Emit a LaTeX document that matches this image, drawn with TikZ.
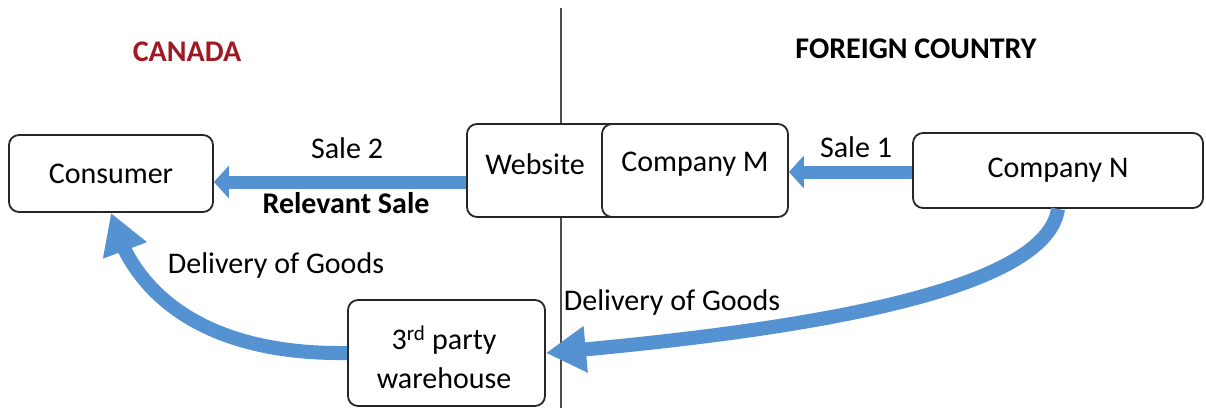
\documentclass[tikz,border=0pt]{standalone}
\usepackage{fontspec}
\setmainfont{Carlito}
\usetikzlibrary{arrows.meta,bending}
\definecolor{arrowblue}{RGB}{84,146,210}
\definecolor{canred}{RGB}{160,26,38}
\begin{document}
\begin{tikzpicture}[x=1pt,y=-1pt,
  box/.style={draw=black!85,line width=1.8pt,rounded corners=10pt,fill=white,inner sep=0pt},
  lbl/.style={inner sep=0pt,font=\fontsize{30}{36}\selectfont},
  hdr/.style={inner sep=0pt,font=\fontsize{30}{36}\selectfont\bfseries},
  flat/.style={draw=arrowblue,line width=13pt,-{Triangle[length=15pt,width=32pt]}},
  curvy/.style={draw=arrowblue,line width=14pt,-{Triangle[length=40pt,width=44pt]}}]
\useasboundingbox (0,0) rectangle (1206,408);
\fill[white] (0,0) rectangle (1206,408);
% divider
\coordinate (vtop) at (561,8);
\coordinate (vbot) at (561,408);
\draw[black!70,line width=1.3pt] (vtop) -- (vbot);
% headers
\node[hdr,text=canred] (canada) at (187,52) {CANADA};
\node[hdr] (foreign) at (916,49) {FOREIGN COUNTRY};
% boxes
\node[box,minimum width=204pt,minimum height=77pt] (cons) at (111,173.5) {};
\node[lbl] (conslbl) at (111,173.5) {Consumer};
\node[box,minimum width=173pt,minimum height=93pt] (web) at (553.5,170.5) {};
\node[box,minimum width=186pt,minimum height=93pt] (compm) at (695,170.5) {};
\node[lbl] (weblbl) at (535,164) {Website};
\node[lbl] (compmlbl) at (695,164) {Company M};
\node[box,minimum width=290pt,minimum height=75pt] (compn) at (1058,170.5) {};
\node[lbl] (compnlbl) at (1058,170.5) {Company N};
\node[box,minimum width=197pt,minimum height=106pt] (wh) at (446.5,353) {};
\node[lbl,align=center,font=\fontsize{30}{39}\selectfont] (whlbl) at (444,357) {3\textsuperscript{rd} party\\warehouse};
% straight arrows
\coordinate (s2) at (0,182);
\coordinate (s1) at (0,172);
\draw[flat] (web.west |- s2) -- (cons.east |- s2);
\draw[flat] (compn.west |- s1) -- (compm.east |- s1);
\node[lbl] (sale2) at (347,148) {Sale 2};
\node[lbl,font=\fontsize{30}{36}\selectfont\bfseries] (relsale) at (346,203) {Relevant Sale};
\node[lbl] (sale1) at (856,147) {Sale 1};
% curved arrows
\draw[curvy] (wh.west) .. controls (200,355) and (130,290) .. (cons.south);
\draw[curvy] (compn.south) .. controls (1045,300) and (750,335) .. (wh.east);
\node[lbl] (del1) at (276,265) {Delivery of Goods};
\node[lbl] (del2) at (672,302) {Delivery of Goods};
\end{tikzpicture}
\end{document}
